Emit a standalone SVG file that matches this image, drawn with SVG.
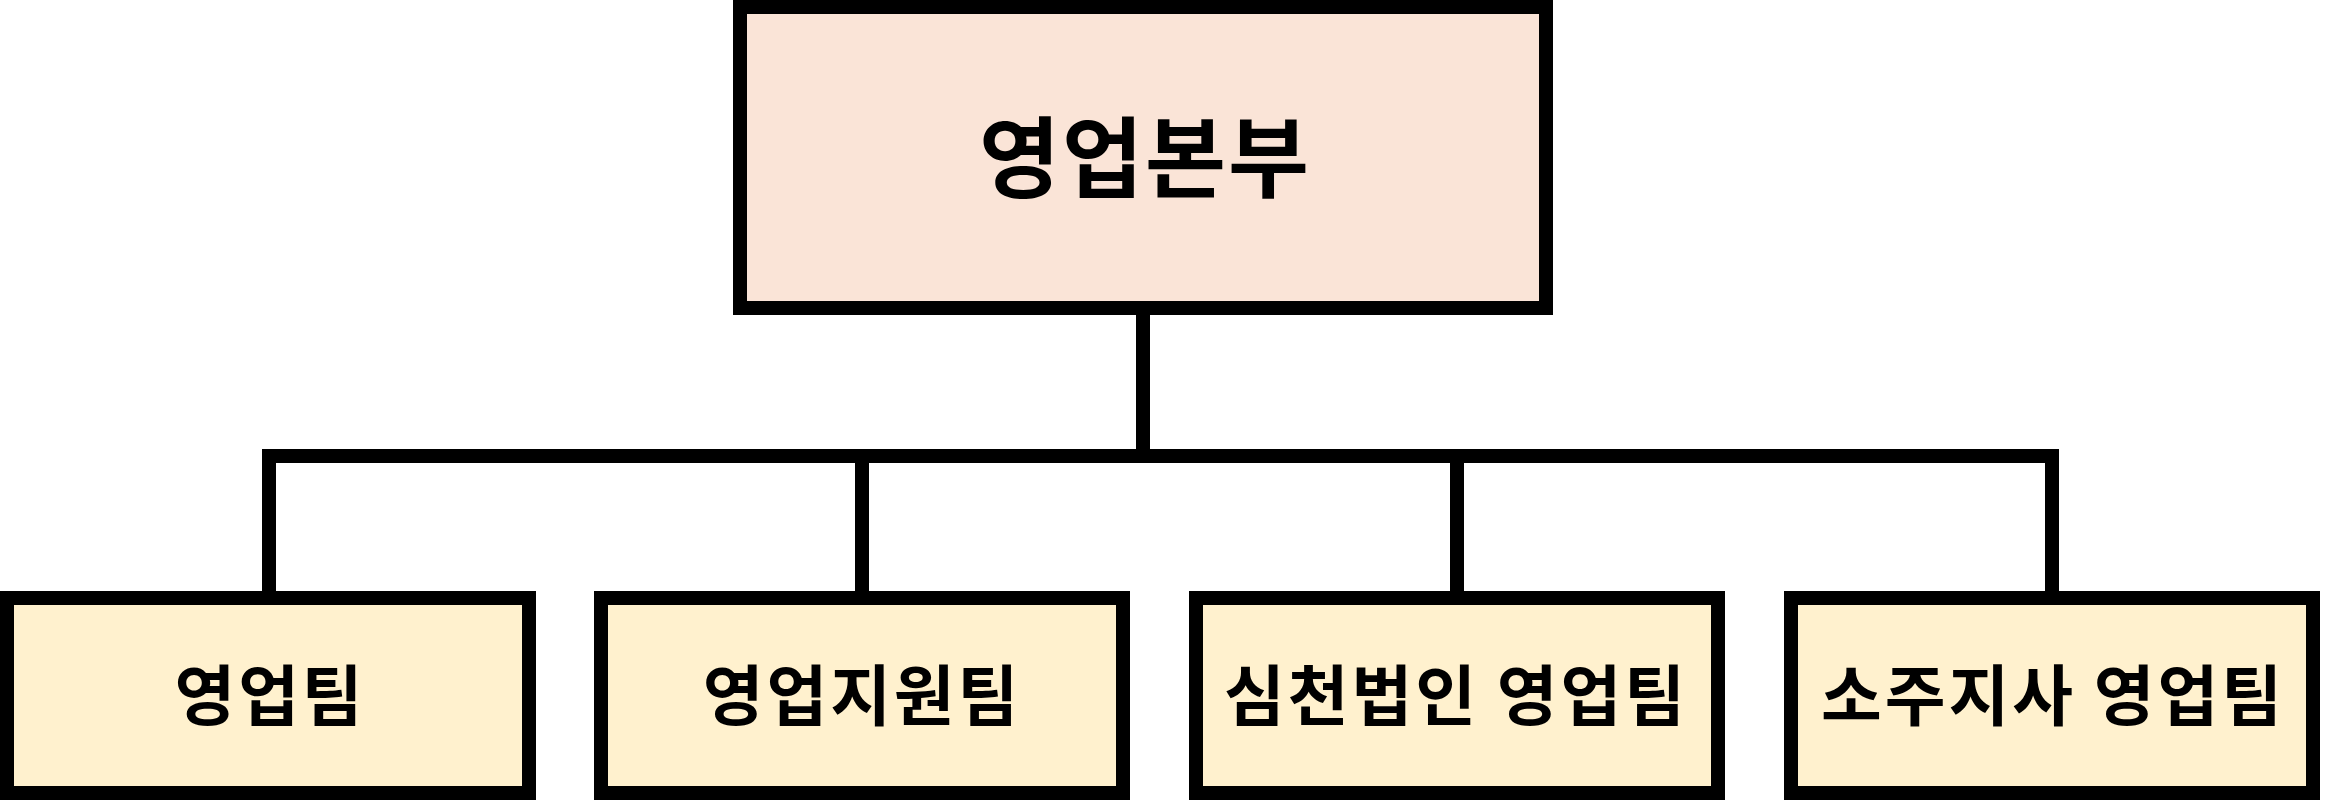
<svg xmlns="http://www.w3.org/2000/svg" width="2326" height="800" viewBox="0 0 2326 800">
<style>
.box{stroke:#000;stroke-width:14}
.top{fill:#FAE4D7}
.sub{fill:#FFF1CE}
.lbl{font-family:"Noto Sans CJK KR","Noto Sans",sans-serif;font-weight:bold;fill:#000;text-anchor:middle;dominant-baseline:central}
.s{font-size:66px;letter-spacing:3px}
.con{stroke:#000;stroke-width:14;fill:none}
</style>
<rect width="2326" height="800" fill="#fff"/>
<g id="connectors">
<line class="con" x1="1143" y1="308" x2="1143" y2="456"/>
<line class="con" x1="262" y1="456" x2="2059" y2="456"/>
<line class="con" x1="269" y1="449" x2="269" y2="598"/>
<line class="con" x1="862" y1="449" x2="862" y2="598"/>
<line class="con" x1="1457" y1="449" x2="1457" y2="598"/>
<line class="con" x1="2052" y1="449" x2="2052" y2="598"/>
</g>
<g id="node-hq">
<rect class="box top" x="740" y="7" width="806" height="301"/>
<text class="lbl" x="1145" y="151" font-size="88" letter-spacing="2">영업본부</text>
</g>
<g id="node-sales">
<rect class="box sub" x="7" y="598" width="522" height="195"/>
<text class="lbl s" x="270" y="691">영업팀</text>
</g>
<g id="node-support">
<rect class="box sub" x="601" y="598" width="522" height="195"/>
<text class="lbl s" x="862" y="691">영업지원팀</text>
</g>
<g id="node-shenzhen">
<rect class="box sub" x="1196" y="598" width="522" height="195"/>
<text class="lbl s" x="1456" y="691">심천법인 영업팀</text>
</g>
<g id="node-suzhou">
<rect class="box sub" x="1791" y="598" width="522" height="195"/>
<text class="lbl s" x="2053" y="691">소주지사 영업팀</text>
</g>
</svg>
